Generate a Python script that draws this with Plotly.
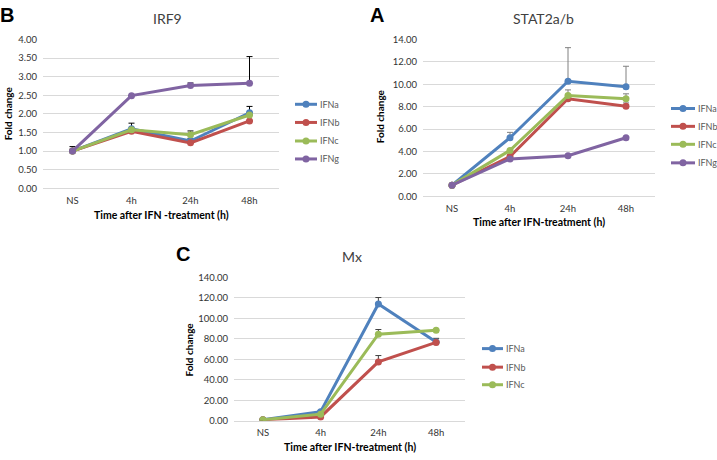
import plotly.graph_objects as go

W, H = 717, 460
categories = ["NS", "4h", "24h", "48h"]
series_names = ["IFNa", "IFNb", "IFNc", "IFNg"]
colors = ["#4F81BD", "#C0504D", "#9BBB59", "#8064A2"]

# Panel B - IRF9
irf9_vals = {
    "IFNa": [1.00, 1.60, 1.27, 2.03],
    "IFNb": [1.00, 1.53, 1.22, 1.81],
    "IFNc": [1.00, 1.57, 1.44, 1.97],
    "IFNg": [1.00, 2.49, 2.76, 2.82],
}
irf9_err = {
    "IFNa": [0.12, 0.15, 0.07, 0.17],
    "IFNb": [0, 0, 0, 0],
    "IFNc": [0, 0, 0.10, 0],
    "IFNg": [0, 0, 0.07, 0.72],
}
# Panel A - STAT2a/b
stat2_vals = {
    "IFNa": [1.00, 5.23, 10.27, 9.78],
    "IFNb": [1.00, 3.55, 8.71, 8.04],
    "IFNc": [1.00, 4.10, 9.00, 8.70],
    "IFNg": [1.00, 3.34, 3.63, 5.23],
}
stat2_err = {
    "IFNa": [0, 0.48, 3.00, 1.83],
    "IFNb": [0, 0.20, 0, 0.30],
    "IFNc": [0, 0, 0.50, 0.45],
    "IFNg": [0, 0, 0, 0],
}
# Panel C - Mx
mx_vals = {
    "IFNa": [1.0, 8.9, 114.0, 77.0],
    "IFNb": [1.0, 3.8, 57.5, 76.5],
    "IFNc": [1.0, 6.5, 84.5, 88.5],
}
mx_err = {
    "IFNa": [0, 1.0, 6.3, 3.5],
    "IFNb": [0, 0, 6.2, 0],
    "IFNc": [0, 0, 4.6, 0],
}

FONT = "Lato, Carlito, 'Open Sans', sans-serif"


def px_x(p):
    return p / W


def px_y(p):
    return 1 - p / H


fig = go.Figure()

panels = [
    (irf9_vals, irf9_err, "x", "y", "#000000"),
    (stat2_vals, stat2_err, "x2", "y2", "#808080"),
    (mx_vals, mx_err, "x3", "y3", "#404040"),
]

for vals, err, xa, ya, ecol in panels:
    for name, col in zip(series_names, colors):
        if name not in vals:
            continue
        fig.add_trace(go.Scatter(
            x=categories, y=vals[name], name=name, mode="lines+markers",
            line=dict(color=col, width=3), marker=dict(color=col, size=7),
            error_y=dict(type="data", array=err[name], arrayminus=[0] * 4,
                         symmetric=False, color=ecol, thickness=1, width=3),
            xaxis=xa, yaxis=ya, showlegend=False,
        ))

tickfont = dict(family=FONT, size=9.5, color="#333333")
grid = "#D9D9D9"


def xaxis(dom, anchor):
    return dict(domain=dom, type="category", range=[-0.5, 3.5], showgrid=False,
                showline=True, linecolor=grid, linewidth=1, ticks="",
                tickfont=tickfont, zeroline=False, fixedrange=True,
                anchor=anchor, ticklabelstandoff=3)


def yaxis(dom, rng, dtick, anchor):
    return dict(domain=dom, range=rng, dtick=dtick, tickformat=".2f",
                showgrid=True, gridcolor=grid, gridwidth=1, zeroline=False,
                showline=False, ticks="", tickfont=tickfont, anchor=anchor,
                fixedrange=True, ticklabelstandoff=5)


fig.update_layout(
    width=W, height=H, margin=dict(l=0, r=0, t=0, b=0),
    paper_bgcolor="white", plot_bgcolor="white",
    showlegend=False,
    xaxis=xaxis([px_x(43), px_x(279)], "y"),
    yaxis=yaxis([px_y(186.7), px_y(34.3)], [0, 4], 0.5, "x"),
    xaxis2=xaxis([px_x(423), px_x(655)], "y2"),
    yaxis2=yaxis([px_y(195), px_y(34.3)], [0, 14], 2, "x2"),
    xaxis3=xaxis([px_x(234), px_x(465)], "y3"),
    yaxis3=yaxis([px_y(425), px_y(278)], [0, 140], 20, "x3"),
)

ann = []
shapes = []


def text(x, y, s, size, bold=False, angle=0, fam=FONT, color="#404040", xanchor="center"):
    ann.append(dict(x=px_x(x), y=px_y(y), xref="paper", yref="paper",
                    text=f"<b>{s}</b>" if bold else s, showarrow=False,
                    xanchor=xanchor, yanchor="middle", textangle=angle,
                    font=dict(family=fam, size=size, color=color)))


# manual legends (Excel style: short line with marker, label right after)
legends = [
    (295, 317, [100.7, 119.3, 138.3, 156.7], series_names),
    (671, 695, [105, 123.3, 141.7, 160.7], series_names),
    (482, 503, [351, 370, 388], series_names[:3]),
]
for x0, x1, ys, names in legends:
    for yy, name in zip(ys, names):
        col = colors[series_names.index(name)]
        shapes.append(dict(type="line", xref="paper", yref="paper",
                           x0=px_x(x0), x1=px_x(x1), y0=px_y(yy), y1=px_y(yy),
                           line=dict(color=col, width=3)))
        shapes.append(dict(type="circle", xref="paper", yref="paper",
                           xsizemode="pixel", ysizemode="pixel",
                           xanchor=px_x((x0 + x1) / 2), yanchor=px_y(yy),
                           x0=-3.5, x1=3.5, y0=-3.5, y1=3.5,
                           fillcolor=col, line=dict(color=col, width=0)))
        text(x1 + 1, yy, name, 9, color="#595959", xanchor="left")

LETTER = "'Liberation Sans', Arial, sans-serif"
text(7, 9, "B", 20, True, fam=LETTER, color="#000")
text(377, 9, "A", 20, True, fam=LETTER, color="#000")
text(183, 254, "C", 20, True, fam=LETTER, color="#000")
text(167, 13, "IRF9", 14)
text(543, 13, "STAT2a/b", 14)
text(352, 257, "Mx", 14)
text(8, 110, "Fold change", 10, True, angle=-90, color="#000")
text(380, 113, "Fold change", 10, True, angle=-90, color="#000")
text(189, 352, "Fold change", 10, True, angle=-90, color="#000")
text(161, 214, "Time after IFN -treatment (h)", 10.5, True, color="#000")
text(539, 221, "Time after IFN-treatment (h)", 10.5, True, color="#000")
text(350, 452, "Time after IFN-treatment (h)", 10.5, True, color="#000")
fig.update_layout(annotations=ann, shapes=shapes)

fig.write_html("out.html", config={"displayModeBar": False},
               post_script="document.body.style.margin='0';document.body.style.overflow='hidden';")
